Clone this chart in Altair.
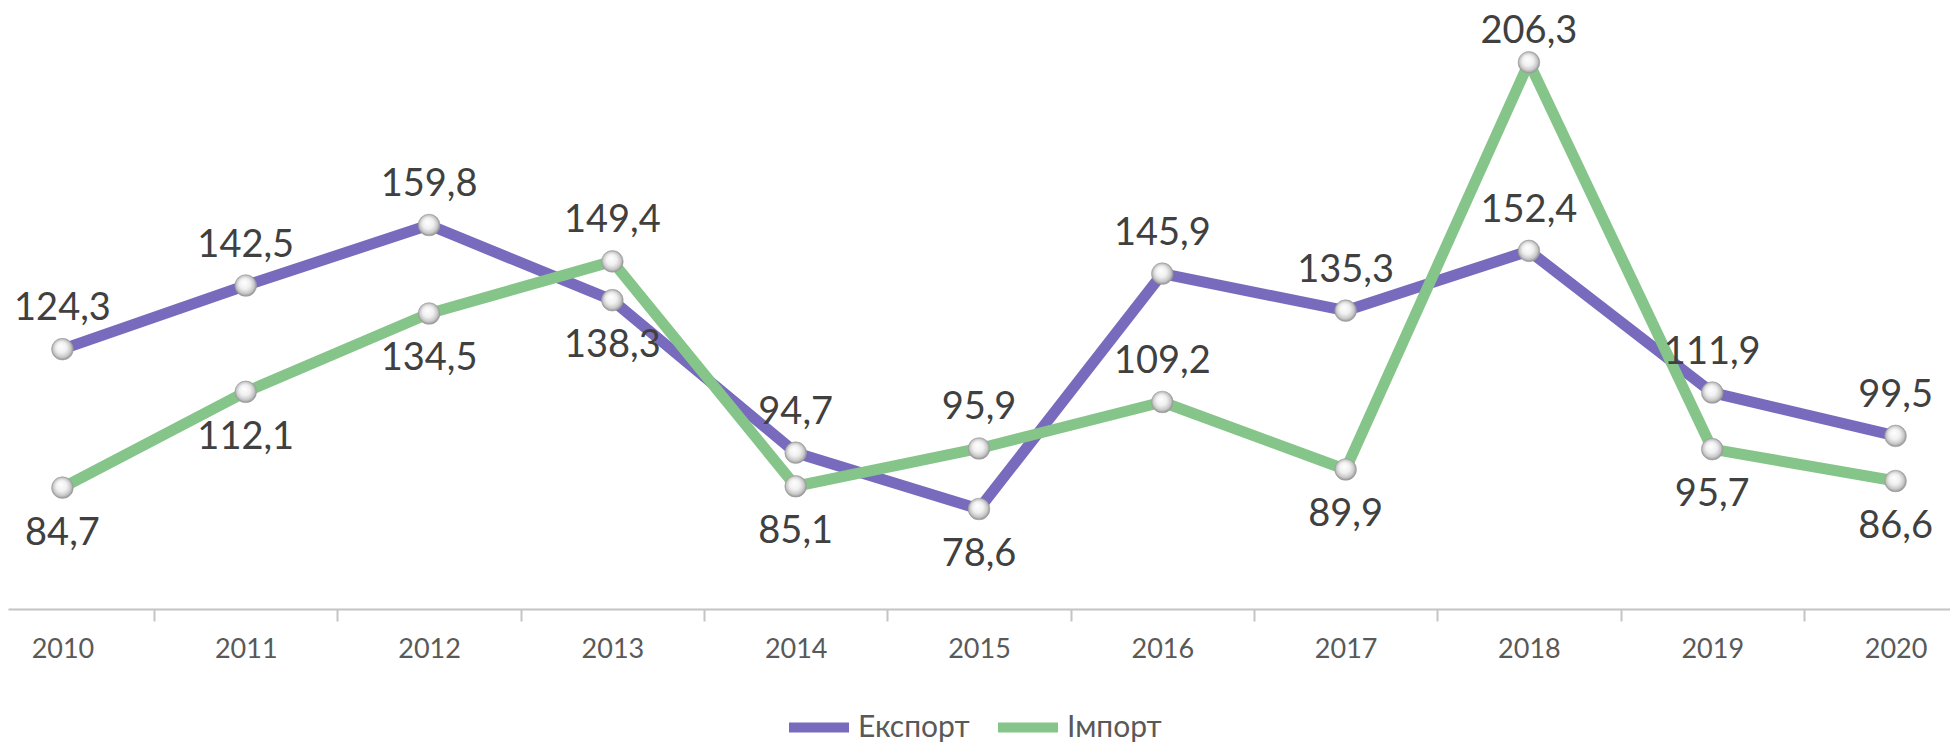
import altair as alt
import pandas as pd

years = [2010, 2011, 2012, 2013, 2014, 2015, 2016, 2017, 2018, 2019, 2020]
export_values = [124.3, 142.5, 159.8, 138.3, 94.7, 78.6, 145.9, 135.3, 152.4, 111.9, 99.5]
import_values = [84.7, 112.1, 134.5, 149.4, 85.1, 95.9, 109.2, 89.9, 206.3, 95.7, 86.6]
export_label_side = ["above", "above", "above", "below", "above", "below", "above", "above", "above", "above", "above"]
import_label_side = ["below", "below", "below", "above", "below", "above", "above", "below", "above_close", "below", "below"]
series_names = ["Експорт", "Імпорт"]
series_colors = ["#786BBD", "#86C58A"]

rows = []
for name, vals, sides in [(series_names[0], export_values, export_label_side),
                          (series_names[1], import_values, import_label_side)]:
    for yr, v, s in zip(years, vals, sides):
        rows.append({"year": yr, "series": name, "value": v, "side": s,
                     "label": f"{v:.1f}".replace(".", ",")})
df = pd.DataFrame(rows)

half_years = [y + 0.5 for y in years[:-1]]

FONT = "Lato"
xscale = alt.Scale(domain=[2009.703, 2020.297], nice=False, zero=False)
yscale = alt.Scale(domain=[50, 220], nice=False, zero=False)

base = alt.Chart(df)

label_axis = alt.Axis(values=years, format="d", labelFont=FONT, labelFontSize=27,
                      labelColor="#595959", ticks=False, tickSize=0, domain=False,
                      grid=False, labelPadding=27, title=None, orient="bottom")
tick_axis = alt.Axis(values=half_years, labels=False, domain=True, domainColor="#C4C4C4",
                     domainWidth=2, ticks=True, tickColor="#C4C4C4", tickWidth=2,
                     tickSize=12, grid=False, title=None, orient="bottom")

X_plain = alt.X("year:Q", scale=xscale, axis=None)
Y_plain = alt.Y("value:Q", scale=yscale, axis=None)

lines = base.mark_line(strokeWidth=11, strokeJoin="round").encode(
    x=alt.X("year:Q", scale=xscale, axis=label_axis),
    y=Y_plain,
    color=alt.Color("series:N",
                    scale=alt.Scale(domain=series_names, range=series_colors),
                    legend=alt.Legend(title=None, orient="none", direction="horizontal",
                                      legendX=776, legendY=678,
                                      symbolType="stroke", symbolStrokeWidth=10,
                                      symbolSize=3600, labelFont=FONT, labelFontSize=30,
                                      labelColor="#595959", labelOffset=4,
                                      columnPadding=8)),
)

tick_layer = base.mark_point(opacity=0).encode(
    x=alt.X("year:Q", scale=xscale, axis=tick_axis),
    y=Y_plain,
)

sphere = alt.Gradient(
    gradient="radial",
    x1=0.42, y1=0.35, r1=0.0,
    x2=0.5, y2=0.5, r2=0.55,
    stops=[alt.GradientStop(offset=0, color="#ffffff"),
           alt.GradientStop(offset=0.45, color="#f0f0f0"),
           alt.GradientStop(offset=0.75, color="#c8c8c8"),
           alt.GradientStop(offset=1, color="#7a7a7a")],
)

points = base.mark_point(filled=True, size=470, fill=sphere, opacity=1,
                         stroke="#a0a0a0", strokeWidth=0.6).encode(
    x=X_plain,
    y=Y_plain,
)

text_style = dict(font=FONT, fontSize=38, color="#404040", baseline="middle", align="center")
labels_above = base.transform_filter(alt.datum.side == "above").mark_text(dy=-40, **text_style).encode(
    x=X_plain, y=Y_plain, text="label:N")
labels_above_close = base.transform_filter(alt.datum.side == "above_close").mark_text(dy=-30, **text_style).encode(
    x=X_plain, y=Y_plain, text="label:N")
labels_below = base.transform_filter(alt.datum.side == "below").mark_text(dy=46, **text_style).encode(
    x=X_plain, y=Y_plain, text="label:N")

chart = alt.layer(lines, tick_layer, points, labels_above, labels_above_close, labels_below).resolve_axis(
    x="independent"
).properties(
    width=1942, height=594.5,
    padding={"top": 6.5, "left": 0, "right": 0, "bottom": 137},
    autosize=alt.AutoSizeParams(type="none"),
).configure_view(stroke=None)

chart.save("out.html", embed_options={"renderer": "svg", "actions": False})
